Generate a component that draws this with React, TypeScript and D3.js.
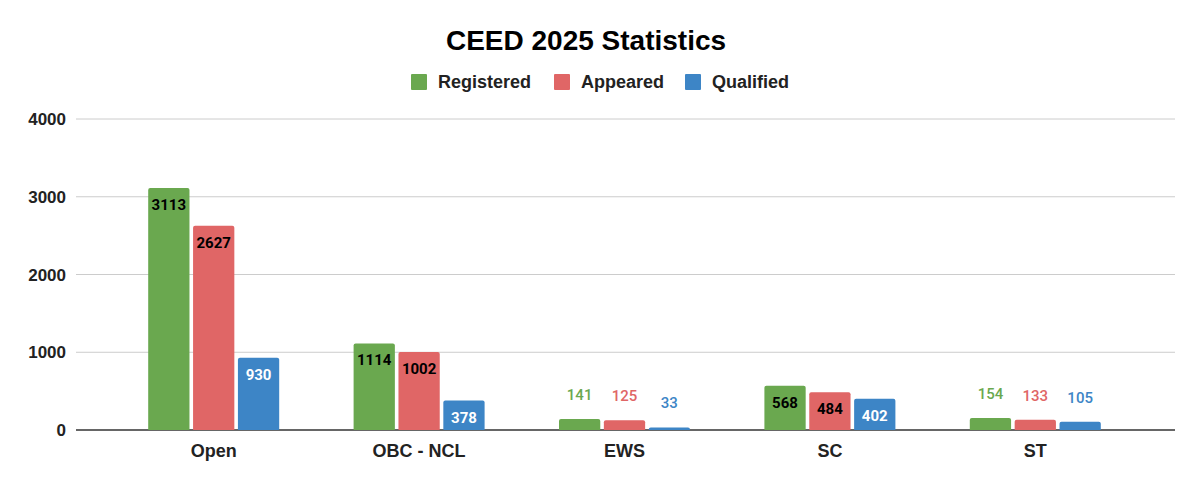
import { useRef, useEffect } from 'react';
import * as d3 from 'd3';

const categories = ['Open', 'OBC - NCL', 'EWS', 'SC', 'ST'];
const seriesNames = ['Registered', 'Appeared', 'Qualified'];
const registered = [3113, 1114, 141, 568, 154];
const appeared = [2627, 1002, 125, 484, 133];
const qualified = [930, 378, 33, 402, 105];
const yTicks = [0, 1000, 2000, 3000, 4000];

const colors = ['#6aa84f', '#e06666', '#3d85c6'];
const insideText = ['#000000', '#000000', '#ffffff'];

export default function App() {
    const svgRef = useRef<SVGSVGElement>(null);

    useEffect(() => {
        if (!svgRef.current) return;
        const svg = d3.select(svgRef.current);
        svg.selectAll('*').remove();

        const W = 1200, H = 485;
        const series = [registered, appeared, qualified];
        const gridLeft = 76, gridRight = 1175;

        const x = d3.scaleBand<string>().domain(categories).range([111, 1138]).padding(0);
        const inner = d3.scaleBand<number>().domain([0, 1, 2]).range([0, 131]).paddingInner(0.08);
        const y = d3.scaleLinear().domain([0, 4000]).range([430, 119]);

        svg.append('rect').attr('width', W).attr('height', H).attr('fill', '#fff');

        // Title
        svg.append('text')
            .attr('x', 586).attr('y', 50)
            .attr('text-anchor', 'middle')
            .attr('font-family', '"Liberation Sans", Arial, sans-serif')
            .attr('font-weight', 'bold')
            .attr('font-size', 28)
            .attr('fill', '#000')
            .text('CEED 2025 Statistics');

        // Legend
        const legendX = [411, 554, 685];
        seriesNames.forEach((name, i) => {
            svg.append('rect')
                .attr('x', legendX[i]).attr('y', 74)
                .attr('width', 16).attr('height', 16)
                .attr('rx', 1)
                .attr('fill', colors[i]);
            svg.append('text')
                .attr('x', legendX[i] + 27).attr('y', 88)
                .attr('font-family', '"Liberation Sans", Arial, sans-serif')
                .attr('font-weight', 'bold')
                .attr('font-size', 18)
                .attr('fill', '#222')
                .text(name);
        });

        // Grid + y labels
        yTicks.forEach(t => {
            svg.append('line')
                .attr('x1', gridLeft).attr('x2', gridRight)
                .attr('y1', y(t)).attr('y2', y(t))
                .attr('stroke', t === 0 ? '#333' : '#cccccc')
                .attr('stroke-width', t === 0 ? 1.5 : 1);
            svg.append('text')
                .attr('x', 66).attr('y', y(t) + 6)
                .attr('text-anchor', 'end')
                .attr('font-family', '"Liberation Sans", Arial, sans-serif')
                .attr('font-weight', 'bold')
                .attr('font-size', 17)
                .attr('fill', '#222')
                .text(String(t));
        });

        // Bars
        categories.forEach((cat, ci) => {
            const gx = (x(cat) ?? 0) + (x.bandwidth() - 131) / 2;
            series.forEach((vals, si) => {
                const v = vals[ci];
                const bx = gx + (inner(si) ?? 0);
                const bw = inner.bandwidth();
                const top = y(v);
                const h = y(0) - top;
                const r = 2;
                svg.append('path')
                    .attr('d', `M${bx},${y(0)} V${top + r} Q${bx},${top} ${bx + r},${top} H${bx + bw - r} Q${bx + bw},${top} ${bx + bw},${top + r} V${y(0)} Z`)
                    .attr('fill', colors[si]);

                const inside = h > 25;
                svg.append('text')
                    .attr('x', bx + bw / 2)
                    .attr('y', inside ? top + 22 : top - 19)
                    .attr('text-anchor', 'middle')
                    .attr('font-family', 'Roboto, sans-serif')
                    .attr('font-weight', inside ? 'bold' : '500')
                    .attr('font-size', 15)
                    .attr('fill', inside ? insideText[si] : colors[si])
                    .text(String(v));
            });

            svg.append('text')
                .attr('x', (x(cat) ?? 0) + x.bandwidth() / 2)
                .attr('y', 457)
                .attr('text-anchor', 'middle')
                .attr('font-family', '"Liberation Sans", Arial, sans-serif')
                .attr('font-weight', 'bold')
                .attr('font-size', 18)
                .attr('fill', '#222')
                .text(cat);
        });
    }, []);

    return (
        <svg ref={svgRef} width={1200} height={485} style={{ display: 'block', position: 'absolute', left: 0, top: 0 }} />
    );
}
